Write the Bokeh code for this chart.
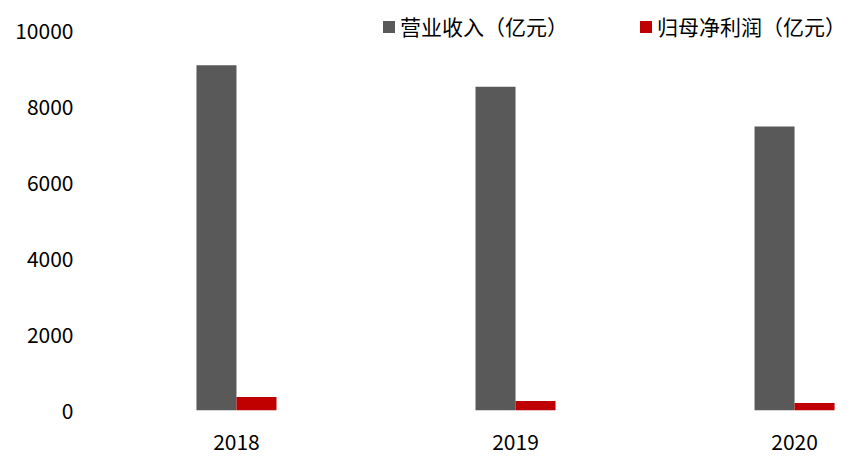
from bokeh.plotting import figure
from bokeh.models import ColumnDataSource, Range1d, FixedTicker, Legend, LegendItem
from bokeh.transform import dodge
from bokeh.embed import file_html
from bokeh.resources import INLINE

years = ["2018", "2019", "2020"]
revenue = [9100, 8530, 7480]
profit = [356, 250, 200]
series_names = ["营业收入（亿元）", "归母净利润（亿元）"]
y_ticks = [0, 2000, 4000, 6000, 8000, 10000]

FONT = "Noto Sans CJK SC"
GRAY = "#595959"
RED = "#C00000"

idx = list(range(len(years)))
src = ColumnDataSource(dict(x=idx, revenue=revenue, profit=profit))

p = figure(width=856, height=462, output_backend="svg", toolbar_location=None,
           x_range=Range1d(-0.559, 2.222), y_range=Range1d(0, 10487),
           min_border_left=80, min_border_right=0, min_border_top=12, min_border_bottom=52)
p.outline_line_color = None
p.xgrid.visible = False
p.ygrid.visible = False

bw = 0.1434
r1 = p.vbar(x=dodge("x", -bw / 2), top="revenue", width=bw, bottom=0, source=src,
            fill_color=GRAY, line_color=None)
r2 = p.vbar(x=dodge("x", bw / 2), top="profit", width=bw, bottom=0, source=src,
            fill_color=RED, line_color=None)

for ax in (p.xaxis[0], p.yaxis[0]):
    ax.axis_line_color = None
    ax.major_tick_line_color = None
    ax.minor_tick_line_color = None
    ax.major_tick_out = 0
    ax.major_tick_in = 0
    ax.major_label_text_font = FONT
    ax.major_label_text_font_size = "21px"
    ax.major_label_text_color = "#000000"

p.yaxis[0].ticker = FixedTicker(ticks=y_ticks)
p.yaxis[0].major_label_standoff = 7
p.xaxis[0].ticker = FixedTicker(ticks=idx)
p.xaxis[0].major_label_overrides = {i: y for i, y in zip(idx, years)}
p.xaxis[0].major_label_standoff = 23

legend = Legend(items=[LegendItem(label=series_names[0], renderers=[r1]),
                       LegendItem(label=series_names[1], renderers=[r2])],
                location=(301, 369), orientation="horizontal",
                glyph_width=15, glyph_height=15, label_standoff=4, spacing=70,
                padding=0, margin=0, border_line_color=None, background_fill_alpha=0,
                label_text_font=FONT, label_text_font_size="21px", label_text_color="#000000")
p.add_layout(legend, "center")

open("out.html", "w").write(file_html(p, INLINE))
